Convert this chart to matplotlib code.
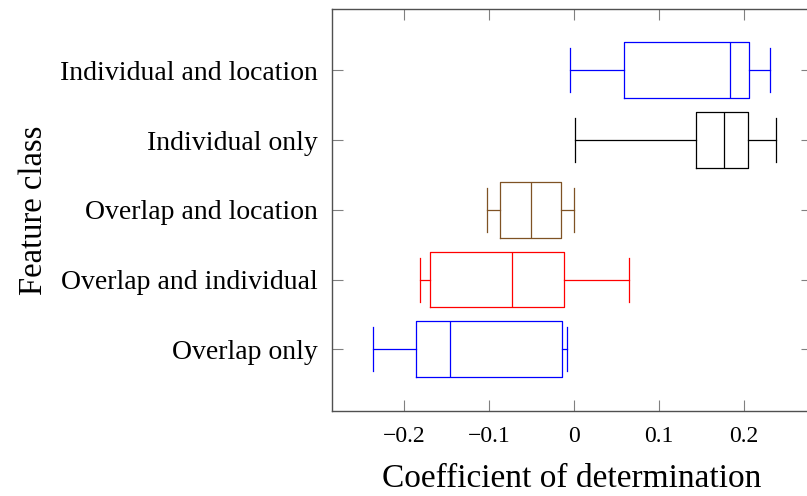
import matplotlib
matplotlib.use('Agg')
import matplotlib.pyplot as plt
from matplotlib.ticker import FuncFormatter

# feature classes, bottom to top
categories = ['Overlap only', 'Overlap and individual', 'Overlap and location',
              'Individual only', 'Individual and location']
whis_lo = [-0.237, -0.182, -0.103, 0.001, -0.005]
q1 = [-0.186, -0.170, -0.087, 0.143, 0.059]
median = [-0.146, -0.073, -0.051, 0.176, 0.183]
q3 = [-0.014, -0.012, -0.015, 0.205, 0.206]
whis_hi = [-0.008, 0.065, 0.000, 0.238, 0.230]
colors = ['#0000ff', '#ff0000', '#7f5224', '#000000', '#0000ff']

plt.rcParams['font.family'] = ['Liberation Serif', 'DejaVu Serif']

fig = plt.figure(figsize=(8.07, 4.96), dpi=100)
ax = fig.add_axes([332 / 807, 85.3 / 496, 480 / 807, 401.7 / 496])

for i in range(len(categories)):
    st = [{'whislo': whis_lo[i], 'q1': q1[i], 'med': median[i], 'q3': q3[i],
           'whishi': whis_hi[i], 'fliers': []}]
    c = colors[i]
    lp = dict(color=c, linewidth=0.9)
    ax.bxp(st, positions=[i + 1], vert=False, widths=0.8, capwidths=0.63,
           showfliers=False, boxprops=lp, whiskerprops=lp, capprops=lp,
           medianprops=lp, manage_ticks=False)

ax.set_ylim(0.12, 5.88)
ax.set_xlim(-0.285, 0.28)
ax.set_yticks(range(1, len(categories) + 1))
ax.set_yticklabels(categories)
ax.set_xticks([-0.2, -0.1, 0, 0.1, 0.2])
ax.xaxis.set_major_formatter(FuncFormatter(lambda v, p: '0' if abs(v) < 1e-9 else ('%.1f' % v).replace('-', '\u2212')))

for s in ax.spines.values():
    s.set_color('#505050')
    s.set_linewidth(1.0)
ax.tick_params(direction='in', length=8, width=0.8, color='#808080',
               top=True, right=True, labelsize=17)
ax.tick_params(axis='y', labelsize=20, pad=10)
ax.tick_params(axis='x', pad=11)

ax.set_xlabel('Coefficient of determination', fontsize=24, labelpad=12)
ax.set_ylabel('Feature class', fontsize=23.5, labelpad=8)

fig.savefig('out.png', dpi=100)
